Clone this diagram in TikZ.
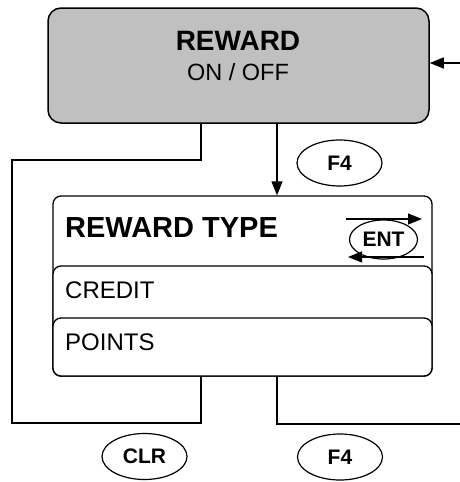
\documentclass[tikz,border=0pt]{standalone}
\usepackage{fontspec}
\setmainfont{Liberation Sans}
\usetikzlibrary{arrows.meta,shapes.geometric}
\definecolor{panel}{HTML}{C0C0C0}
\begin{document}
\begin{tikzpicture}[x=1pt,y=-1pt,
  box/.style={draw,line width=1.3pt,rounded corners=8pt,fill=white,inner sep=0pt},
  key/.style={draw,ellipse,line width=1.2pt,inner sep=0pt,font=\fontsize{21}{25}\selectfont\bfseries},
  wire/.style={line width=1.2pt},
  tip/.style={line width=1.2pt,-{Triangle[length=14pt,width=11pt]}}
]
\useasboundingbox (0,0) rectangle (460,482);

\node[box,fill=panel,rounded corners=13pt,line width=1.5pt,minimum width=381pt,minimum height=115pt] (reward) at (238.5,65.5) {};
\node[anchor=base,font=\fontsize{28}{32}\selectfont\bfseries] (rewardname) at (238,50) {REWARD};
\node[anchor=base,font=\fontsize{23.5}{27}\selectfont] (onoff) at (238,80) {ON / OFF};

\node[box,minimum width=379pt,minimum height=180pt] (type) at (242.5,286) {};
\node[box,minimum width=379pt,minimum height=110pt] (credit) at (242.5,321) {};
\node[box,minimum width=379pt,minimum height=58pt] (points) at (242.5,347) {};
\node[anchor=base west,inner sep=0pt,font=\fontsize{29}{33}\selectfont\bfseries] (typename) at (65,237) {REWARD TYPE};
\node[anchor=base west,inner sep=0pt,font=\fontsize{24}{28}\selectfont] (creditname) at (65,298) {CREDIT};
\node[anchor=base west,inner sep=0pt,font=\fontsize{24}{28}\selectfont] (pointsname) at (65,350) {POINTS};

\node[key,minimum width=85pt,minimum height=46pt] (f4a) at (339.5,163) {F4};
\node[key,minimum width=68pt,minimum height=39pt] (ent) at (383.5,239.5) {ENT};
\node[key,minimum width=85pt,minimum height=46pt] (clr) at (144.5,456.5) {CLR};
\node[key,minimum width=85pt,minimum height=46pt] (f4b) at (340,457) {F4};

\coordinate (back) at (460,63);
\coordinate (clrx) at (201,0);
\coordinate (f4x) at (277,0);
\coordinate (loopa) at (12,160);
\coordinate (loopb) at (12,423);
\coordinate (out) at (460,424);
\coordinate (enta) at (346,219);
\coordinate (entb) at (422,219);
\coordinate (entc) at (424,257);
\coordinate (entd) at (348,257);

\draw[tip] (back) -- (back -| reward.east);
\draw[tip] (reward.south -| f4x) -- (type.north -| f4x);
\draw[wire] (reward.south -| clrx) |- (loopa) -- (loopb) -| (type.south -| clrx);
\draw[wire] (type.south -| f4x) |- (out);
\draw[tip] (enta) -- (entb);
\draw[tip] (entc) -- (entd);
\end{tikzpicture}
\end{document}
